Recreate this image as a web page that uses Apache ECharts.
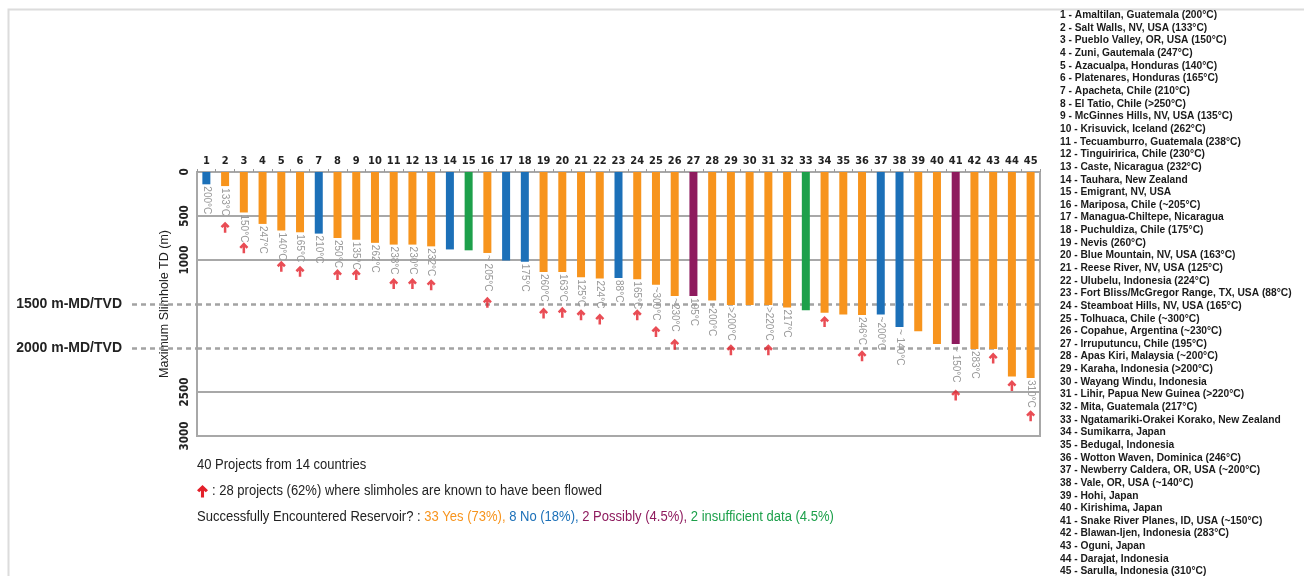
<!DOCTYPE html>
<html><head><meta charset="utf-8">
<script src="https://cdn.jsdelivr.net/npm/echarts@6/dist/echarts.min.js"></script>
<style>html,body{margin:0;padding:0;background:#fff}#c{width:1304px;height:576px}</style>
</head><body><div id="c"></div>
<script>
const categories = ['1','2','3','4','5','6','7','8','9','10','11','12','13','14','15','16','17','18','19','20','21','22','23','24','25','26','27','28','29','30','31','32','33','34','35','36','37','38','39','40','41','42','43','44','45'];
const depth = [140,160,460,590,665,685,700,750,770,805,825,825,845,880,890,920,1005,1020,1135,1135,1195,1210,1205,1220,1280,1410,1410,1460,1510,1510,1510,1540,1570,1600,1620,1625,1620,1760,1810,1955,1955,2010,2010,2325,2340];
const outcome = ['N','Y','Y','Y','Y','Y','N','Y','Y','Y','Y','Y','Y','N','I','Y','N','N','Y','Y','Y','Y','N','Y','Y','Y','P','Y','Y','Y','Y','Y','I','Y','Y','Y','N','N','Y','Y','P','Y','Y','Y','Y'];
const tempLabels = ['200°C','133°C','150°C','247°C','140°C','165°C','210°C','250°C','135°C','262°C','238°C','230°C','232°C','','','~ 205°C','','175°C','260°C','163°C','125°C','224°C','88°C','165°C','~300°C','~230°C','195°C','~200°C','>200°C','','>220°C','217°C','','','','246°C','~200°C','~ 140°C','','','~ 150°C','283°C','','','310°C'];
const arrowDepth = [null,627,862,null,1071,1128,null,1166,1166,null,1268,1268,1280,null,null,1481,null,null,1603,1595,1622,1671,null,1622,1812,1956,null,null,2020,null,2020,null,null,1698,null,2089,null,null,null,null,2533,null,2115,2427,2769];
const solidRefs = [500,1000,2500];
const dashedRefs = [1500,2000];
const dashedRefLabels = ['1500 m-MD/TVD','2000 m-MD/TVD'];
const yTicksHidden = [1500,2000];
const sites = [
 'Amaltilan, Guatemala (200°C)','Salt Walls, NV, USA (133°C)','Pueblo Valley, OR, USA (150°C)','Zuni, Gautemala (247°C)',
 'Azacualpa, Honduras (140°C)','Platenares, Honduras (165°C)','Apacheta, Chile (210°C)','El Tatio, Chile (>250°C)',
 'McGinnes Hills, NV, USA (135°C)','Krisuvick, Iceland (262°C)','Tecuamburro, Guatemala (238°C)','Tinguiririca, Chile (230°C)',
 'Caste, Nicaragua (232°C)','Tauhara, New Zealand','Emigrant, NV, USA','Mariposa, Chile (~205°C)','Managua-Chiltepe, Nicaragua',
 'Puchuldiza, Chile (175°C)','Nevis (260°C)','Blue Mountain, NV, USA (163°C)','Reese River, NV, USA (125°C)',
 'Ulubelu, Indonesia (224°C)','Fort Bliss/McGregor Range, TX, USA (88°C)','Steamboat Hills, NV, USA (165°C)',
 'Tolhuaca, Chile (~300°C)','Copahue, Argentina (~230°C)','Irruputuncu, Chile (195°C)','Apas Kiri, Malaysia (~200°C)',
 'Karaha, Indonesia (>200°C)','Wayang Windu, Indonesia','Lihir, Papua New Guinea (>220°C)','Mita, Guatemala (217°C)',
 'Ngatamariki-Orakei Korako, New Zealand','Sumikarra, Japan','Bedugal, Indonesia','Wotton Waven, Dominica (246°C)',
 'Newberry Caldera, OR, USA (~200°C)','Vale, OR, USA (~140°C)','Hohi, Japan','Kirishima, Japan',
 'Snake River Planes, ID, USA (~150°C)','Blawan-Ijen, Indonesia (283°C)','Oguni, Japan','Darajat, Indonesia','Sarulla, Indonesia (310°C)'
];
const summary = {projects: 40, countries: 14, flowed: 28, flowedPct: '62%',
  yes: [33,'73%'], no: [8,'18%'], possibly: [2,'4.5%'], insufficient: [2,'4.5%']};

const COLORS = {Y:'#F7941D', N:'#1C70B8', P:'#8E1B5E', I:'#1DA04B'};
const RED = '#E3202A';
const SANS = '"Liberation Sans",Arial,sans-serif';
const COND = '"DejaVu Sans Condensed","Liberation Sans",sans-serif';
const ARROW_PTS = [[5,0],[10,5],[8,7],[6.4,5.4],[6.4,12],[3.6,12],[3.6,5.4],[2,7],[0,5]];
const ARROW_PATH = 'path://M' + ARROW_PTS.map(p=>p.join(',')).join(' L') + ' Z';

const chart = echarts.init(document.getElementById('c'), null, {renderer:'canvas'});

const barData = depth.map((v,i)=>({value:v, itemStyle:{color:COLORS[outcome[i]]}}));
const arrowData = [];
arrowDepth.forEach((d,i)=>{ if(d!=null) arrowData.push([i,d]); });

const option = {
  animation:false,
  backgroundColor:'#fff',
  grid:[
    {left:197, right:264, top:172, bottom:140, show:true, borderColor:'#a8a8a8', borderWidth:2},
    {left:132, width:65, top:172, bottom:140}
  ],
  xAxis:[
    {type:'category', data:categories, position:'top', gridIndex:0,
     axisLine:{lineStyle:{color:'#a8a8a8', width:2}},
     axisTick:{show:true, length:3, lineStyle:{color:'#999'}},
     axisLabel:{interval:0, margin:5, color:'#222', fontWeight:'bold', fontSize:11, fontFamily:COND},
     splitLine:{show:false}},
    {type:'value', gridIndex:1, min:0, max:1, show:false}
  ],
  yAxis:[
    {type:'value', gridIndex:0, inverse:true, min:0, max:3000, interval:500,
     name:'Maximum Slimhole TD (m)', nameLocation:'middle', nameGap:18,
     nameTextStyle:{fontSize:12.5, color:'#222', fontFamily:SANS},
     axisLine:{show:true, lineStyle:{color:'#a8a8a8', width:2}},
     axisTick:{show:false},
     axisLabel:{rotate:90, margin:6, color:'#222', fontWeight:'bold', fontSize:11.5, fontFamily:COND,
       formatter:v=> yTicksHidden.indexOf(v)>=0 ? '' : String(v)},
     splitLine:{show:false}},
    {type:'value', gridIndex:1, inverse:true, min:0, max:3000, show:false}
  ],
  series:[
    {type:'bar', xAxisIndex:0, yAxisIndex:0, data:barData, barWidth:8, z:2,
     label:{show:true, position:'bottom', distance:2, rotate:-90, align:'left', verticalAlign:'middle',
       color:'#999', fontSize:10, fontFamily:SANS,
       formatter:p=>tempLabels[p.dataIndex]},
     markLine:{silent:true, z:1, symbol:['none','none'], label:{show:false},
       data: solidRefs.map(v=>({yAxis:v, lineStyle:{color:'#a8a8a8', width:2, type:'solid'}}))
         .concat(dashedRefs.map(v=>({yAxis:v, lineStyle:{color:'#a3a3a3', width:2.5, type:[5,4]}})))}
    },
    {type:'scatter', xAxisIndex:0, yAxisIndex:0, data:arrowData, symbol:ARROW_PATH, symbolSize:[9,11],
     itemStyle:{color:RED}, z:4},
    {type:'line', xAxisIndex:1, yAxisIndex:1, data:[],
     markLine:{silent:true, z:1, symbol:['none','none'],
       label:{show:true, position:'start', distance:10, color:'#222', fontSize:14, fontWeight:'bold', fontFamily:SANS,
         formatter:p=>dashedRefLabels[dashedRefs.indexOf(p.value)]},
       data: dashedRefs.map(v=>({yAxis:v, lineStyle:{color:'#a3a3a3', width:2.5, type:[5,4]}}))}
    }
  ],
  graphic:[
    {type:'rect', left:6, top:7, shape:{x:0,y:0,width:1320,height:600}, silent:true,
     style:{fill:'none', stroke:'#dcdcdc', lineWidth:2}},
    {type:'text', x:1060, y:8.7, scaleX:0.89, silent:true,
     style:{x:0, y:0, verticalAlign:'top', text: sites.map((s,i)=>(i+1)+' - '+s).join('\n'), lineHeight:12.64,
       font:'bold 11.5px '+SANS, fill:'#1a1a1a'}},
    {type:'text', x:197, y:458, scaleX:0.93, silent:true,
     style:{x:0, y:0, verticalAlign:'top', text: summary.projects+' Projects from '+summary.countries+' countries', font:'14px '+SANS, fill:'#222'}},
    {type:'polygon', x:197, y:485, scaleX:1.1, scaleY:1.05, silent:true, shape:{points:ARROW_PTS},
     style:{fill:RED}},
    {type:'text', x:212, y:484, scaleX:0.93, silent:true,
     style:{x:0, y:0, verticalAlign:'top', text:': '+summary.flowed+' projects ('+summary.flowedPct+') where slimholes are known to have been flowed',
       font:'14px '+SANS, fill:'#222'}},
    {type:'text', x:197, y:510, scaleX:0.93, silent:true,
     style:{x:0, y:0, verticalAlign:'top', text:'Successfully Encountered Reservoir? : {y|'+summary.yes[0]+' Yes ('+summary.yes[1]+'),} {n|'+summary.no[0]+' No ('+summary.no[1]+'),} {p|'+summary.possibly[0]+' Possibly ('+summary.possibly[1]+'),} {i|'+summary.insufficient[0]+' insufficient data ('+summary.insufficient[1]+')}',
       font:'14px '+SANS, fill:'#222',
       rich:{y:{fill:COLORS.Y, font:'14px '+SANS}, n:{fill:COLORS.N, font:'14px '+SANS},
             p:{fill:COLORS.P, font:'14px '+SANS}, i:{fill:COLORS.I, font:'14px '+SANS}}}}
  ]
};
chart.setOption(option);
</script></body></html>
